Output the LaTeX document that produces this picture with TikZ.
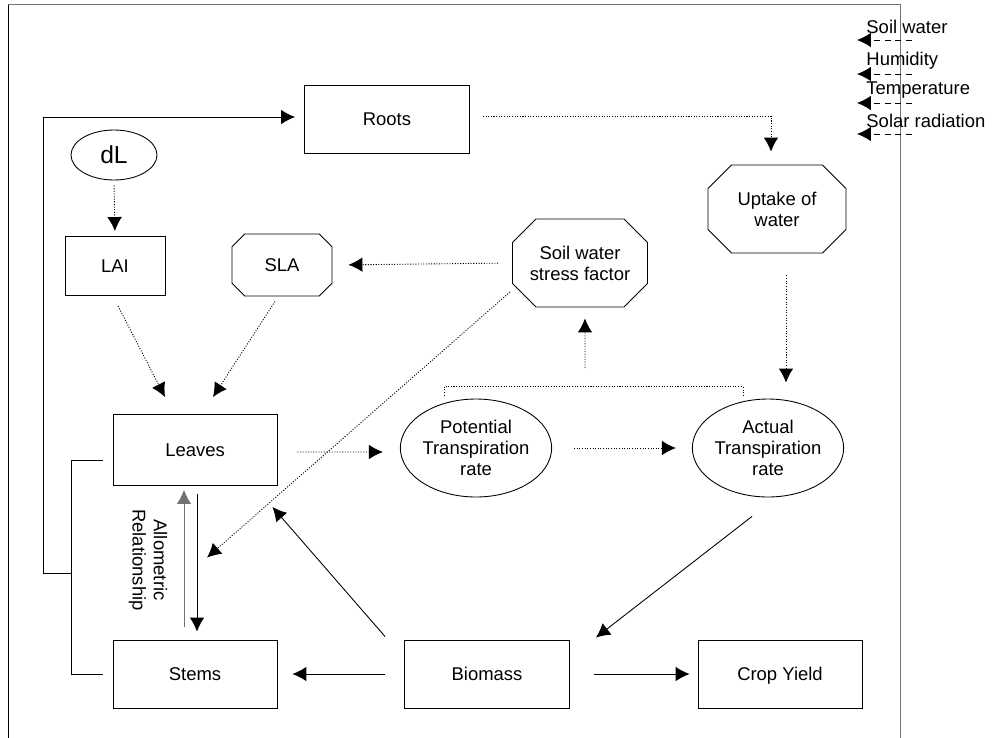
\documentclass[tikz,border=0pt]{standalone}
\usepackage{fontspec}
\setmainfont{Liberation Sans}
\usetikzlibrary{arrows.meta}
\usetikzlibrary{shapes.geometric}
\usetikzlibrary{shapes.misc}
\tikzset{box/.style = {draw, rectangle, inner sep = 0, align = center,
                       text height = 0.74em, text depth = 0em,
                       minimum width = 3.28cm, minimum height = 1.36cm}}
\tikzset{oval/.style = {draw, ellipse, inner sep = 0, align = center,
                        minimum width = 2.96cm, minimum height = 1.96cm}}
\tikzset{oct/.style = {draw, chamfered rectangle, inner sep = 0, align = center}}
\tikzset{arr/.style = {-{Latex[length=0.28cm, width=0.29cm]}}}
\tikzset{dotarr/.style = {dash pattern=on 0.6pt off 0.9pt, arr}}
\tikzset{legarr/.style = {dash pattern=on 3.5pt off 2.5pt, arr}}
\definecolor{fgray}{rgb}{0.45, 0.45, 0.45}

\begin{document}
\begin{tikzpicture}[x=0.02cm, y=-0.02cm, line width=0.5pt,
                    font=\fontsize{10.5}{12}\selectfont]
      \useasboundingbox (0, 0) rectangle (992, 738);
      % frame
      \draw (8, 738) -- (8, 4);
      \draw [fgray] (8, 4) -- (900, 4) -- (900, 738);

      % nodes
      \node [box, minimum width=3.3cm] (roots) at (387, 119) {Roots};
      \node [draw, ellipse, inner sep=0, minimum width=1.72cm, minimum height=1cm,
             font=\fontsize{14}{16}\selectfont] (dl) at (114, 155) {dL};
      \node [box, minimum width=2cm, minimum height=1.18cm] (lai) at (115, 266) {LAI};
      \node [oct, minimum width=2cm, minimum height=1.24cm,
             chamfered rectangle xsep=0.3cm] (sla) at (282, 265) {SLA};
      \node [oct, minimum width=2.7cm, minimum height=1.76cm,
             chamfered rectangle xsep=0.54cm] (stress) at (580, 263) {Soil water\\stress factor};
      \node [oct, minimum width=2.76cm, minimum height=1.76cm,
             chamfered rectangle xsep=0.52cm] (uptake) at (777, 209) {Uptake of\\water};
      \node [box, minimum height=1.42cm] (leaves) at (195, 450) {Leaves};
      \node [oval] (potential) at (476, 448) {Potential\\Transpiration\\rate};
      \node [oval] (actual) at (768, 448) {Actual\\Transpiration\\rate};
      \node [box] (stems) at (195, 674) {Stems};
      \node [box, minimum width=3.3cm] (biomass) at (487, 674) {Biomass};
      \node [box] (yield) at (780, 674) {Crop Yield};
      \node [rotate=-90, align=center] (allo) at (148, 560) {Allometric\\Relationship};

      % legend
      \foreach \y/\name/\txt in {27/lsoil/Soil water, 61/lhum/Humidity,
                                 90/ltemp/Temperature, 121/lsolar/Solar radiation} {
        \node [anchor=west, inner sep=0] (\name) at (866, \y) {\txt};
        \draw [legarr] ([xshift=0.92cm, yshift=-0.26cm]\name.west) -- ++(-55, 0);
      }

      % dotted flows
      \draw [dotarr] ([xshift=0.26cm, yshift=0.06cm]roots.east)
                     -| ([xshift=-0.12cm, yshift=0.26cm]uptake.north);
      \draw [dotarr, shorten <=0.1cm, shorten >=0.1cm] (dl.south) -- (lai.north);
      \draw [dotarr] ([xshift=0.06cm, yshift=-0.2cm]lai.south)
                     -- ([xshift=-0.6cm, yshift=0.34cm]leaves.north);
      \draw [dotarr] ([xshift=-0.14cm, yshift=-0.1cm]sla.south)
                     -- ([xshift=0.36cm, yshift=0.34cm]leaves.north);
      \draw [dotarr, shorten <=0.28cm, shorten >=0.32cm] (stress.west) -- (sla.east);
      \draw [dotarr] ([xshift=-0.04cm, yshift=-0.58cm]stress.west)
                     -- ([xshift=0.24cm, yshift=1.64cm]stems.north);
      \draw [dotarr, shorten <=0.44cm, shorten >=0.32cm]
            ([xshift=0.18cm]uptake.south) -- ([xshift=0.18cm]uptake.south |- actual.north);
      \draw [dash pattern=on 0.6pt off 0.9pt] ([xshift=-0.64cm, yshift=0.06cm]potential.north)
            -- ++(0, -9) -| ([xshift=-0.5cm, yshift=0.06cm]actual.north);
      \coordinate (brk) at (585, 368);
      \draw [dotarr] (brk) -- ([xshift=0.1cm, yshift=-0.22cm]stress.south);
      \draw [dotarr, shorten <=0.4cm, shorten >=0.34cm]
            ([yshift=-0.04cm]leaves.east) -- ([yshift=-0.08cm]potential.west);
      \draw [dotarr, shorten <=0.44cm, shorten >=0.32cm] (potential.east) -- (actual.west);

      % solid flows
      \draw [arr] ([xshift=-0.32cm, yshift=-0.38cm]actual.south)
                  -- ([xshift=0.52cm, yshift=0.04cm]biomass.north east);
      \draw [arr] ([xshift=-0.38cm, yshift=0.06cm]biomass.north west)
                  -- ([xshift=-0.1cm, yshift=-0.42cm]leaves.south east);
      \draw [arr, shorten <=0.38cm, shorten >=0.3cm] (biomass.west) -- (stems.east);
      \draw [arr, shorten <=0.48cm, shorten >=0.16cm] (biomass.east) -- (yield.west);
      \draw [arr, fgray] ([xshift=-0.22cm, yshift=0.26cm]stems.north)
                         -- ([xshift=-0.22cm, yshift=-0.08cm]leaves.south);
      \draw [arr] ([xshift=0.04cm, yshift=-0.16cm]leaves.south)
                  -- ([xshift=0.04cm, yshift=0.16cm]stems.north);

      % feedback to roots
      \draw ([xshift=-0.2cm, yshift=-0.2cm]leaves.west) -- ++(-31, 0) coordinate (lb)
            |- ([xshift=-0.2cm]stems.west);
      \coordinate (lm) at (lb |- 0, 573);
      \draw [arr] (lm) -- ++(-28, 0) |- ([xshift=-0.18cm, yshift=0.04cm]roots.west);
    \end{tikzpicture}
\end{document}
